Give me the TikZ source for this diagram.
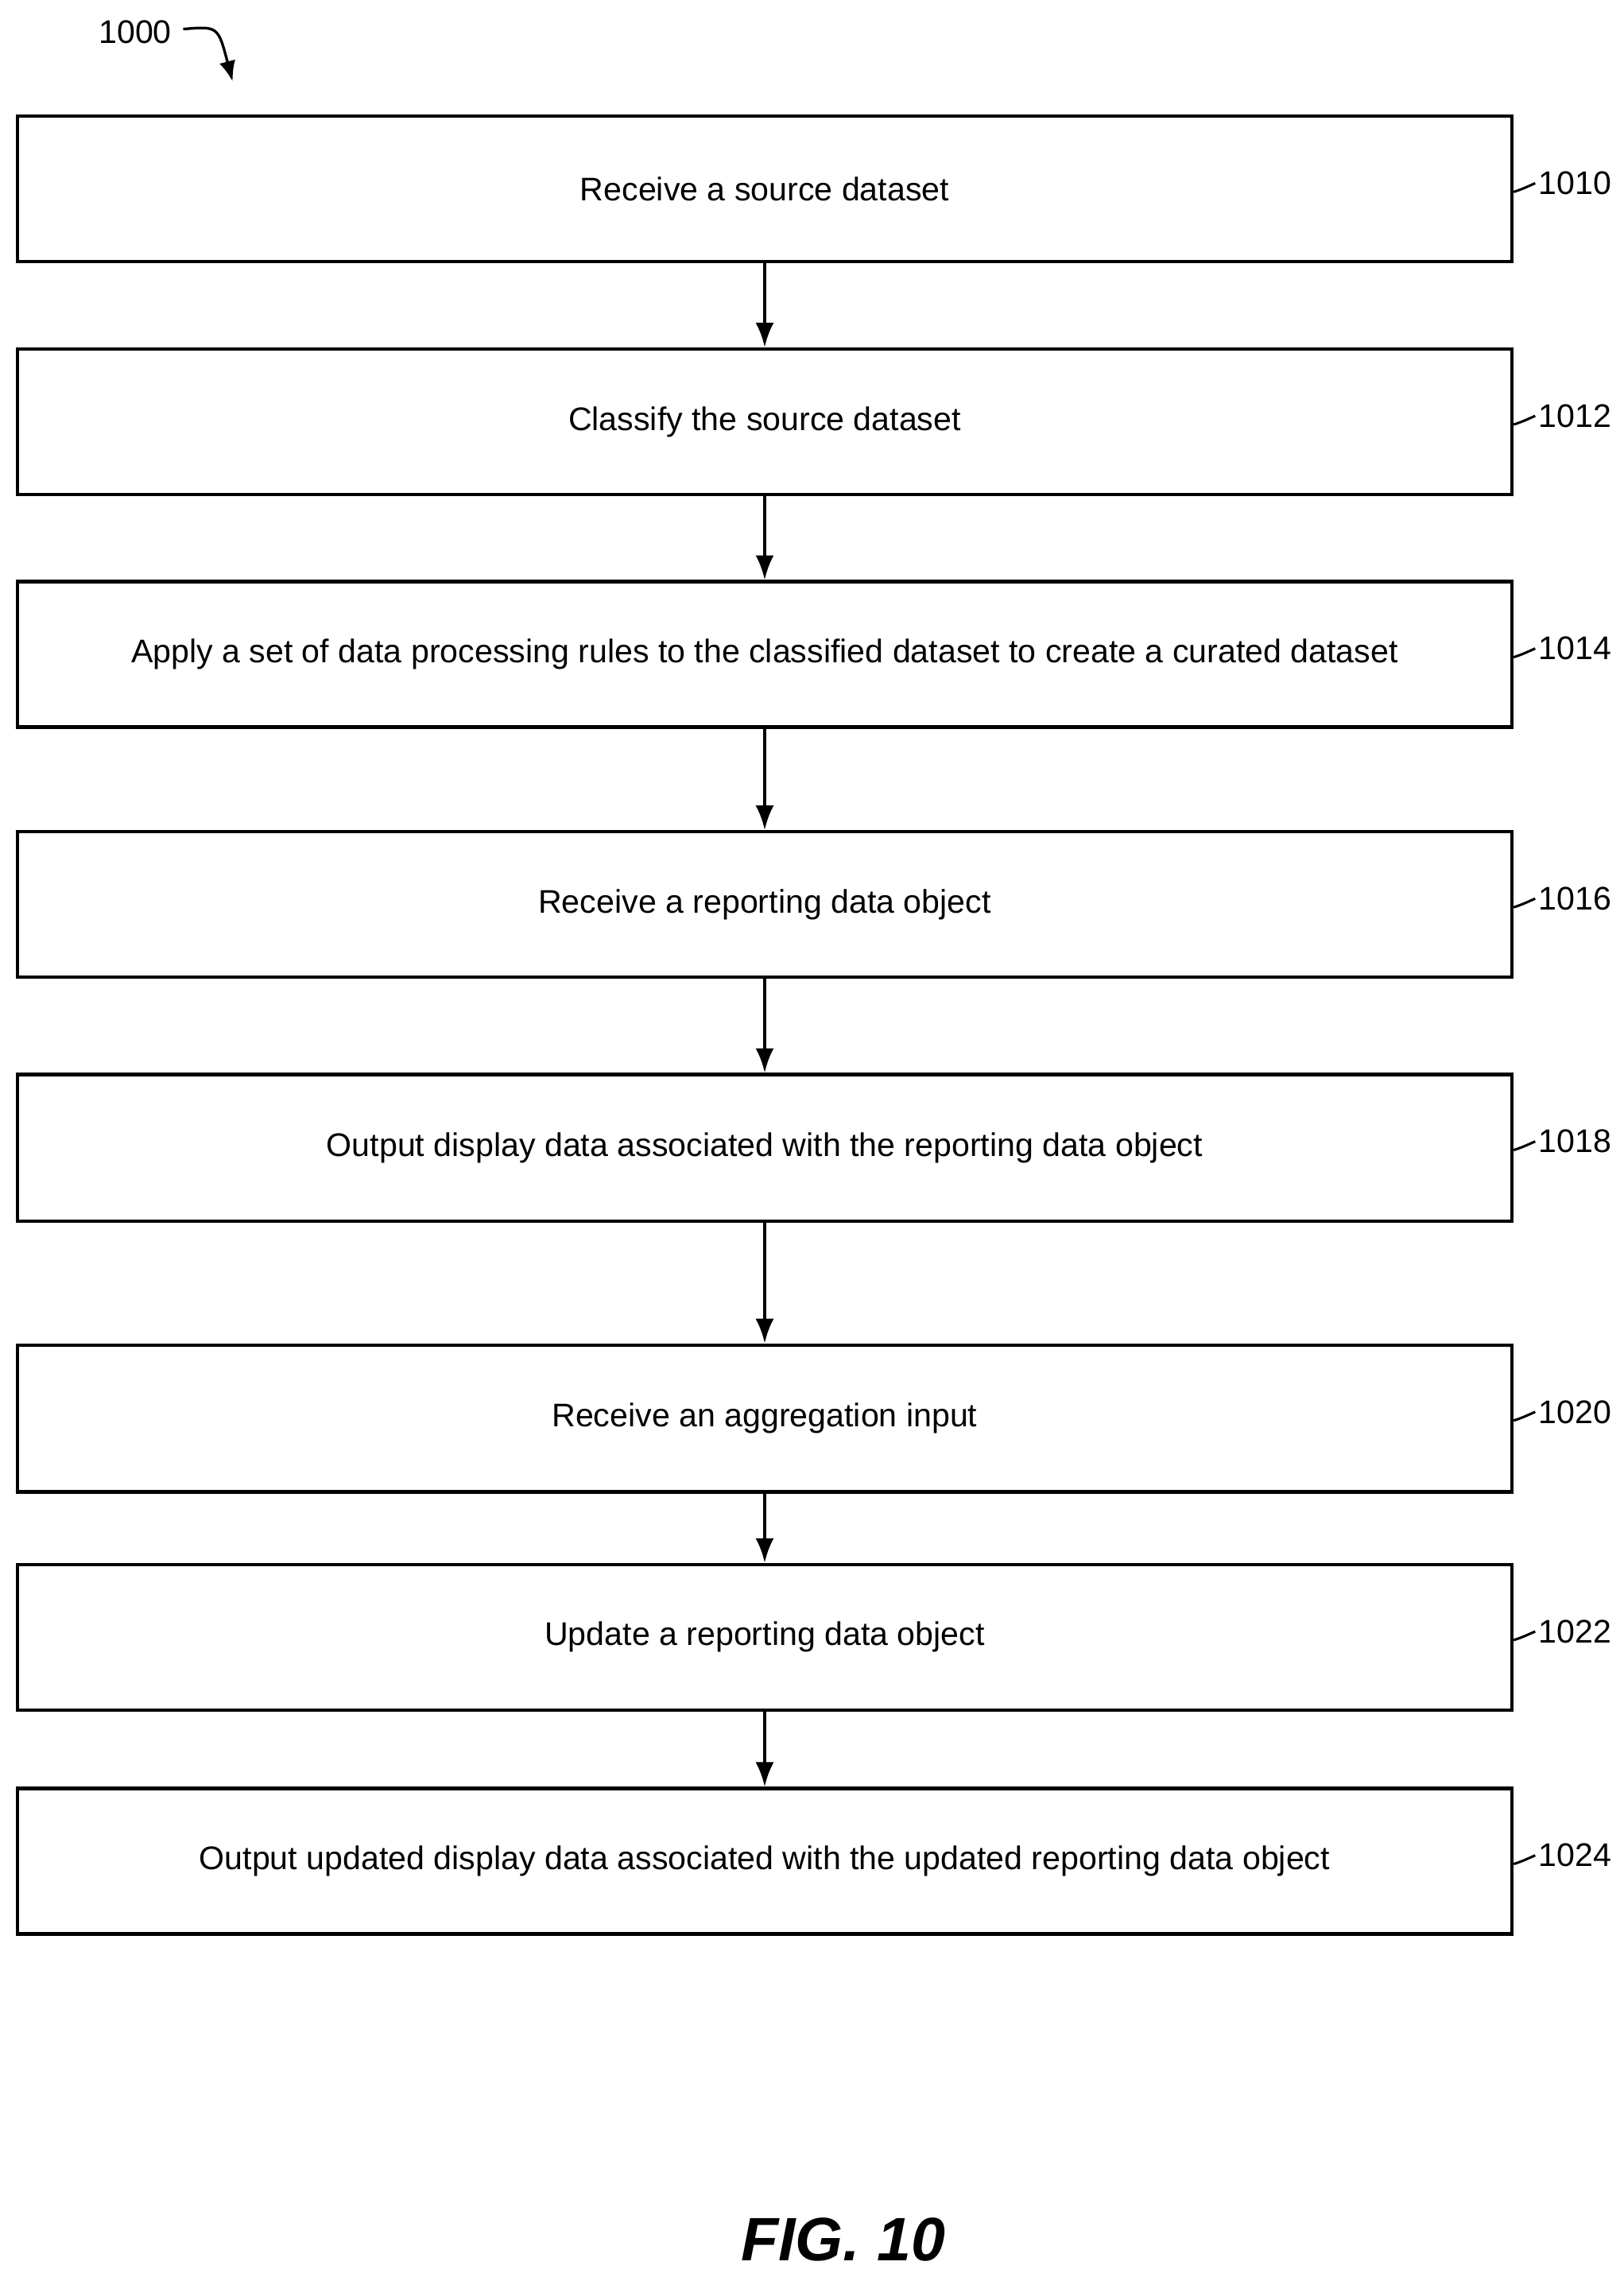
\documentclass[tikz,border=0pt]{standalone}
\usepackage{fontspec}
\setmainfont{Liberation Sans}
\usetikzlibrary{arrows.meta}
\begin{document}
\begin{tikzpicture}[x=0.05cm,y=-0.05cm,
 box/.style={draw,line width=3.4pt,minimum width=1028*0.05cm,inner sep=0pt,font=\fontsize{32}{38}\selectfont},
 arr/.style={line width=3.2pt,-{Latex[length=24pt,width=18pt]}},
 lab/.style={font=\fontsize{32}{38}\selectfont,anchor=west}]
\useasboundingbox (0,0) rectangle (1117,1566);
\foreach \n/\t/\b/\s in {1010/80/180/Receive a source dataset,
 1012/240/340/Classify the source dataset,
 1014/400/500/Apply a set of data processing rules to the classified dataset to create a curated dataset,
 1016/572/672/Receive a reporting data object,
 1018/739/840/Output display data associated with the reporting data object,
 1020/925/1026/Receive an aggregation input,
 1022/1076/1176/Update a reporting data object,
 1024/1230/1330/Output updated display data associated with the updated reporting data object}{
 \node[box,minimum height={(\b-\t)*0.05cm}] (b\n) at (526,{(\t+\b)/2}) {\s};
 \node[lab] (l\n) at (1056,\t+46) {\n};
 \draw[line width=2.4pt] (b\n.east|-0,\t+52) .. controls (1047,\t+50) .. (l\n.west);
}
\foreach \a/\c in {1010/1012,1012/1014,1014/1016,1016/1018,1018/1020,1020/1022,1022/1024}
 \draw[arr] (b\a) -- (b\c);
\node[lab,anchor=center] (t) at (93,22) {1000};
\coordinate (te) at (160,56);
\draw[line width=2.6pt,-{Latex[length=20pt,width=16pt]}] (126,20) .. controls (150,18) .. (te);
\node[font=\fontsize{60}{66}\selectfont\itshape\bfseries] (fig) at (580,1540) {FIG. 10};
\end{tikzpicture}
\end{document}
